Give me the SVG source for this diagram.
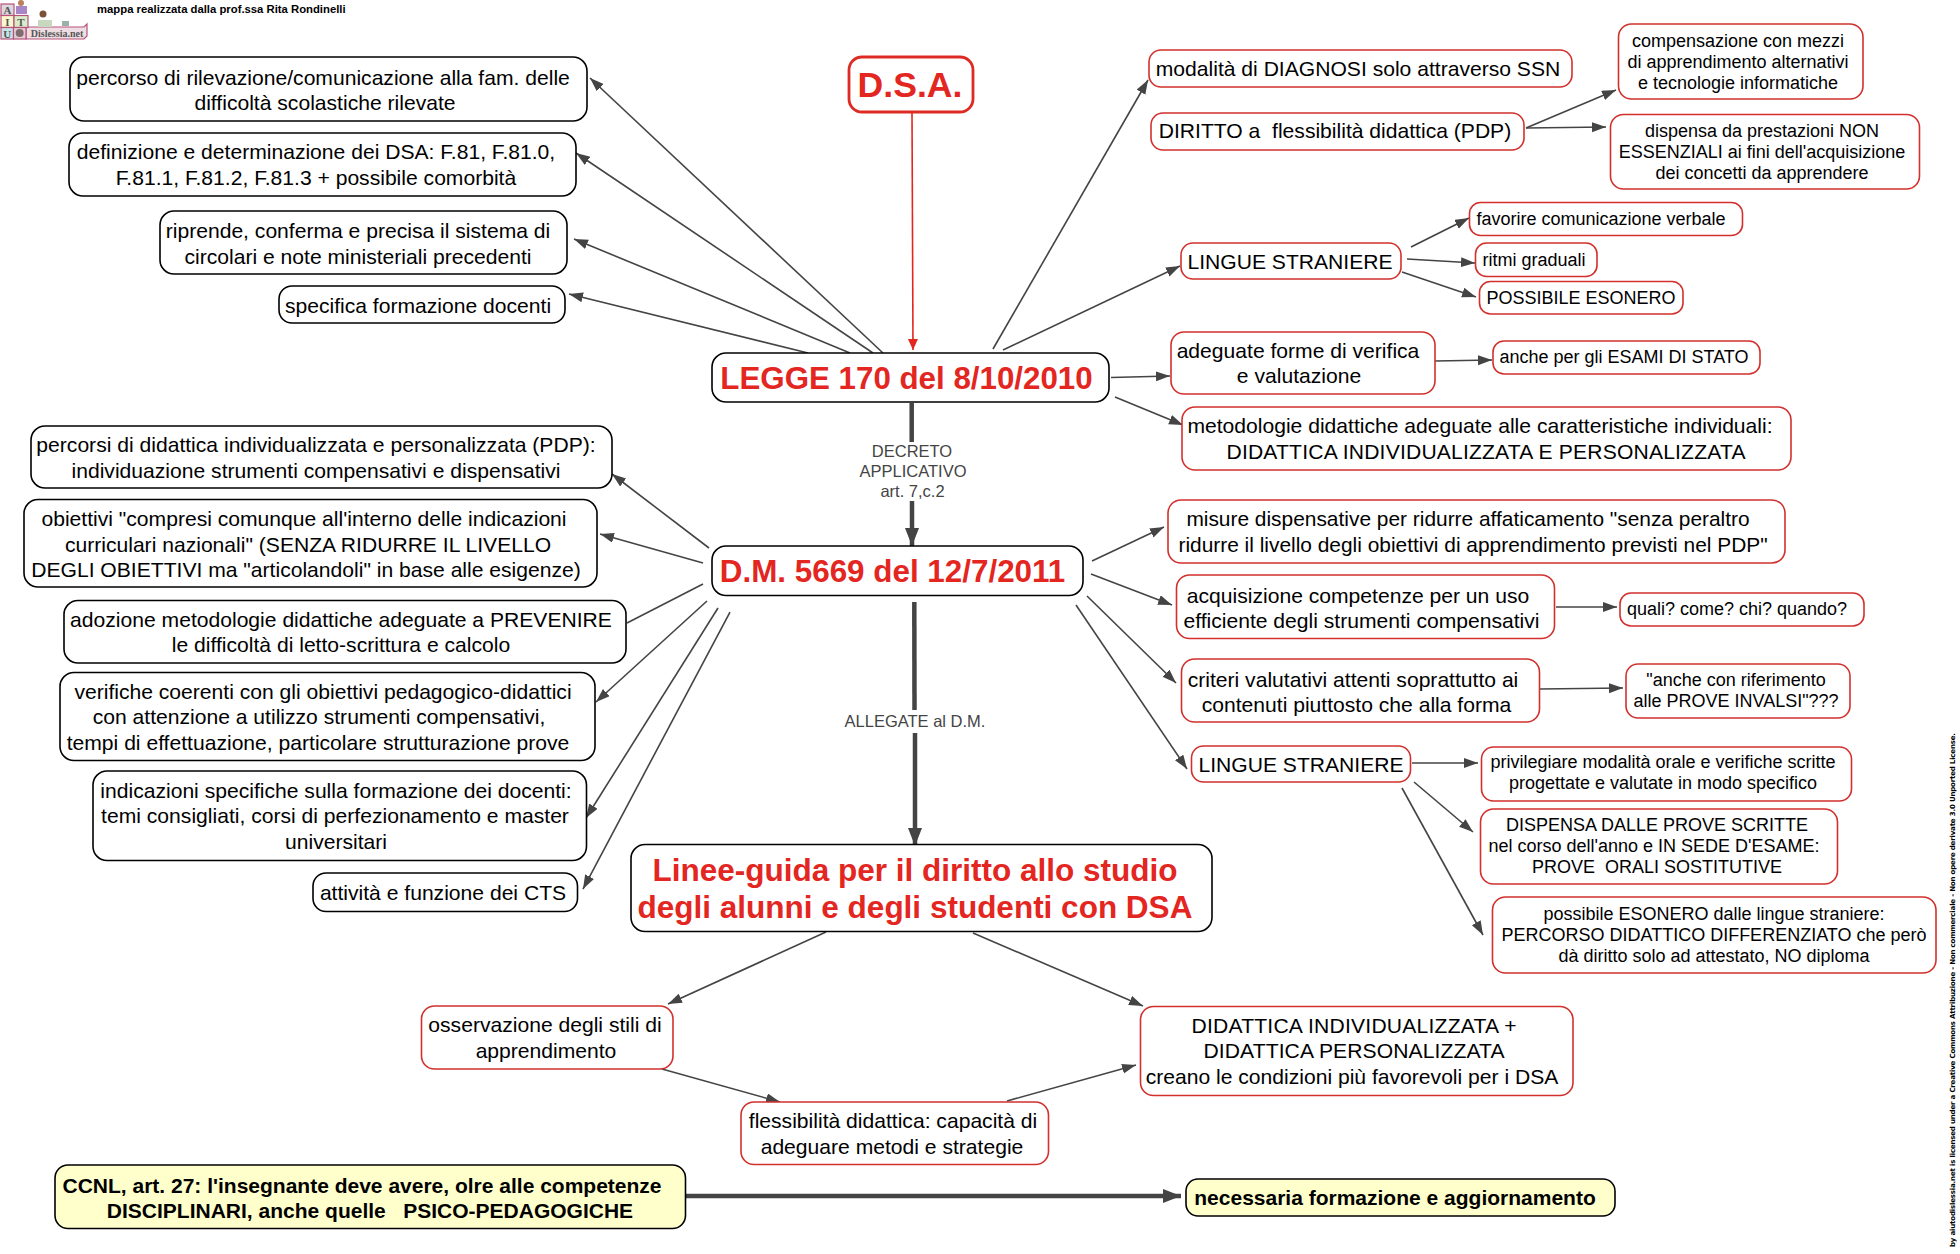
<svg xmlns="http://www.w3.org/2000/svg" width="1960" height="1254" viewBox="0 0 1960 1254">
<style>
text{font-family:"Liberation Sans",Arial,sans-serif;text-anchor:middle;fill:#000}
.k{fill:#fff;stroke:#000;stroke-width:1.6}
.r{fill:#fff;stroke:#d2302c;stroke-width:1.6}
.y{fill:#ffffcc;stroke:#000;stroke-width:1.6}
.t{font-size:21.1px}
.s{font-size:18px}
.h{fill:#e3261f;font-weight:bold}
.l{fill:#444;font-size:16.5px}
.b{font-weight:bold;font-size:21px}
.c{font-size:11px;font-weight:bold;font-family:"Liberation Serif",serif;fill:#555}
.lg{stroke:#b8527a;stroke-width:1.2}
#conn line{stroke:#444;stroke-width:1.6;marker-end:url(#a)}
#conn line.m{stroke-width:4.5;marker-end:url(#am)}
#conn line.n{marker-end:none}
#conn line.red{stroke:#e3261f;marker-end:url(#ar)}
</style>
<defs>
<marker id="a" markerUnits="userSpaceOnUse" markerWidth="16" markerHeight="12" refX="14" refY="5" orient="auto"><path d="M0 0L14 5L0 10z" fill="#444"/></marker>
<marker id="ar" markerUnits="userSpaceOnUse" markerWidth="16" markerHeight="12" refX="11" refY="5" orient="auto"><path d="M0 0L11 5L0 10z" fill="#e3261f"/></marker>
<marker id="am" markerUnits="userSpaceOnUse" markerWidth="20" markerHeight="16" refX="18" refY="7" orient="auto"><path d="M0 0L18 7L0 14z" fill="#444"/></marker>
</defs>
<g id="conn">
<line class="red" x1="912" y1="112" x2="913" y2="350"/>
<line x1="883" y1="353" x2="590" y2="78"/>
<line x1="873" y1="353" x2="576" y2="153"/>
<line x1="850" y1="353" x2="574" y2="239"/>
<line x1="808" y1="353" x2="569" y2="294"/>
<line x1="993" y1="349" x2="1148" y2="80"/>
<line x1="1003" y1="350" x2="1180" y2="266"/>
<line x1="1111" y1="377.500" x2="1170" y2="376"/>
<line x1="1115" y1="397" x2="1183" y2="425"/>
<line x1="1526" y1="128" x2="1616" y2="90"/>
<line x1="1526" y1="128" x2="1606" y2="127"/>
<line x1="1411" y1="247" x2="1469" y2="218"/>
<line x1="1407" y1="259" x2="1475" y2="263"/>
<line x1="1402" y1="272" x2="1476" y2="297"/>
<line x1="1435" y1="361" x2="1492" y2="360"/>
<line class="m n" x1="911.700" y1="403" x2="911.700" y2="442"/>
<line class="m" x1="912" y1="501" x2="912" y2="546"/>
<line class="m n" x1="914.300" y1="602" x2="914.500" y2="710"/>
<line class="m" x1="915" y1="733" x2="915" y2="846"/>
<line x1="709" y1="548" x2="612" y2="474"/>
<line x1="703" y1="563" x2="600" y2="534"/>
<line class="n" x1="703" y1="584" x2="627" y2="623"/>
<line x1="707" y1="601" x2="596" y2="702"/>
<line x1="718" y1="608" x2="586" y2="818"/>
<line x1="730" y1="612" x2="583" y2="889"/>
<line x1="1092" y1="561" x2="1164" y2="527"/>
<line x1="1091" y1="574" x2="1172" y2="605"/>
<line x1="1087" y1="596" x2="1176" y2="683"/>
<line x1="1076" y1="605" x2="1187" y2="769"/>
<line x1="1556" y1="607" x2="1617" y2="607"/>
<line x1="1540" y1="689" x2="1623" y2="688"/>
<line x1="1412" y1="763" x2="1478" y2="763"/>
<line x1="1414" y1="782" x2="1473" y2="832"/>
<line x1="1402" y1="788" x2="1483" y2="935"/>
<line x1="826" y1="932" x2="668" y2="1004"/>
<line x1="973" y1="933" x2="1143" y2="1006"/>
<line x1="662" y1="1069" x2="780" y2="1102"/>
<line x1="1007" y1="1101" x2="1136" y2="1065"/>
<line class="m" x1="686" y1="1196" x2="1181" y2="1196"/>
</g>
<g id="logo">
<path class="lg" d="M26 39V27H84L87 24V36L84 39z" fill="#efdde4"/>
<rect class="lg" x="1" y="4" width="13" height="11.500" fill="#ddd8e0"/>
<rect class="lg" x="1" y="15.500" width="13" height="12" fill="#fbf7cf"/>
<rect class="lg" x="14" y="15.500" width="14" height="12" fill="#d9ecc8"/>
<rect class="lg" x="1" y="27.500" width="12.500" height="11.500" fill="#c6e4e8"/>
<rect class="lg" x="13.500" y="27.500" width="12.500" height="11.500" fill="#e4ccd4"/>
<rect x="16" y="6" width="11" height="8" fill="#a887c8"/>
<circle cx="21" cy="3" r="3" fill="#b97f5e"/>
<rect x="38" y="20" width="14" height="7" fill="#c8d8c0"/>
<circle cx="43" cy="14" r="3.500" fill="#7a5238"/>
<rect x="62" y="21" width="7" height="5" fill="#9ab0a8"/>
<text class="c" x="7.500" y="14">A</text>
<text class="c" x="7.500" y="26">I</text>
<text class="c" x="21" y="26">T</text>
<text class="c" x="7.200" y="37.500">U</text>
<circle cx="19.700" cy="33" r="4" fill="#7f6d70"/>
<text x="57" y="36.500" style="font-size:10px;font-weight:bold;fill:#555;font-family:'Liberation Serif',serif">Dislessia.net</text>
</g>
<text x="97" y="12.500" style="text-anchor:start;font-size:11.300px;font-weight:bold">mappa realizzata dalla prof.ssa Rita Rondinelli</text>
<text transform="translate(1955,1247) rotate(-90)" textLength="514" style="text-anchor:start;font-size:7px;font-weight:bold;font-family:'DejaVu Sans',sans-serif">by aiutodislessia.net is licensed under a Creative Commons Attribuzione - Non commerciale - Non opere derivate 3.0 Unported License.</text>
<g id="n0"><rect class="r" x="849" y="57" width="124" height="55" rx="13" style="stroke-width:2.8;stroke:#dd2b24"/><text class="h" x="910" y="97" style="font-size:35.600px">D.S.A.</text></g>
<g id="n1"><rect class="k" x="712" y="353" width="397" height="49" rx="14"/><text class="h" x="906.500" y="388.500" style="font-size:31.300px">LEGGE 170 del 8/10/2010</text></g>
<g id="n2"><rect class="k" x="712" y="546" width="371" height="49.500" rx="14"/><text class="h" x="892.500" y="582" style="font-size:31.400px">D.M. 5669 del 12/7/2011</text></g>
<g id="n3"><rect class="k" x="631" y="844.500" width="581" height="87" rx="14"/><text class="h" x="915" y="881" style="font-size:31.500px">Linee-guida per il diritto allo studio</text><text class="h" x="915" y="918" style="font-size:31.500px">degli alunni e degli studenti con DSA</text></g>
<g id="l1"><rect class="k" x="70" y="57" width="517" height="64" rx="14"/><text class="t" x="323" y="85">percorso di rilevazione/comunicazione alla fam. delle</text><text class="t" x="325" y="110">difficoltà scolastiche rilevate</text></g>
<g id="l2"><rect class="k" x="69" y="133" width="507" height="63" rx="14"/><text class="t" x="316" y="159">definizione e determinazione dei DSA: F.81, F.81.0,</text><text class="t" x="316" y="185">F.81.1, F.81.2, F.81.3 + possibile comorbità</text></g>
<g id="l3"><rect class="k" x="160" y="211" width="407" height="63" rx="14"/><text class="t" x="358" y="238">riprende, conferma e precisa il sistema di</text><text class="t" x="358" y="264">circolari e note ministeriali precedenti</text></g>
<g id="l4"><rect class="k" x="279" y="286" width="286" height="37" rx="13"/><text class="t" x="418" y="313">specifica formazione docenti</text></g>
<g id="l5"><rect class="k" x="31" y="426" width="581" height="62" rx="14"/><text class="t" x="316" y="452">percorsi di didattica individualizzata e personalizzata (PDP):</text><text class="t" x="316" y="478">individuazione strumenti compensativi e dispensativi</text></g>
<g id="l6"><rect class="k" x="24" y="499.500" width="573" height="87.500" rx="14"/><text class="t" x="304" y="526">obiettivi "compresi comunque all'interno delle indicazioni</text><text class="t" x="308" y="552">curriculari nazionali" (SENZA RIDURRE IL LIVELLO</text><text class="t" x="306" y="577">DEGLI OBIETTIVI ma "articolandoli" in base alle esigenze)</text></g>
<g id="l7"><rect class="k" x="64" y="600.500" width="562" height="62.500" rx="14"/><text class="t" x="341" y="627">adozione metodologie didattiche adeguate a PREVENIRE</text><text class="t" x="341" y="652">le difficoltà di letto-scrittura e calcolo</text></g>
<g id="l8"><rect class="k" x="60" y="672.500" width="535" height="88" rx="14"/><text class="t" x="323" y="699">verifiche coerenti con gli obiettivi pedagogico-didattici</text><text class="t" x="319" y="724">con attenzione a utilizzo strumenti compensativi,</text><text class="t" x="318" y="750">tempi di effettuazione, particolare strutturazione prove</text></g>
<g id="l9"><rect class="k" x="93" y="771" width="493.500" height="89.500" rx="14"/><text class="t" x="336" y="798">indicazioni specifiche sulla formazione dei docenti:</text><text class="t" x="335" y="823">temi consigliati, corsi di perfezionamento e master</text><text class="t" x="336" y="849">universitari</text></g>
<g id="l10"><rect class="k" x="313" y="873" width="264.500" height="38.500" rx="13"/><text class="t" x="443" y="900">attività e funzione dei CTS</text></g>
<g id="r1"><rect class="r" x="1149" y="50" width="423" height="37" rx="12"/><text class="t" x="1358" y="76">modalità di DIAGNOSI solo attraverso SSN</text></g>
<g id="r2"><rect class="r" x="1151" y="113" width="373" height="37" rx="12"/><text class="t" x="1335" y="138" xml:space="preserve">DIRITTO a  flessibilità didattica (PDP)</text></g>
<g id="r3"><rect class="r" x="1618.500" y="24" width="244.500" height="75" rx="13"/><text class="s" x="1738" y="47">compensazione con mezzi</text><text class="s" x="1738" y="68">di apprendimento alternativi</text><text class="s" x="1738" y="89">e tecnologie informatiche</text></g>
<g id="r4"><rect class="r" x="1610.500" y="114.500" width="309" height="74.500" rx="13"/><text class="s" x="1762" y="137">dispensa da prestazioni NON</text><text class="s" x="1762" y="158">ESSENZIALI ai fini dell'acquisizione</text><text class="s" x="1762" y="179">dei concetti da apprendere</text></g>
<g id="r5"><rect class="r" x="1181" y="243" width="220" height="36" rx="12"/><text class="t" x="1290" y="268.500">LINGUE STRANIERE</text></g>
<g id="r6"><rect class="r" x="1469.500" y="202.500" width="273" height="33" rx="11"/><text class="s" x="1601" y="225">favorire comunicazione verbale</text></g>
<g id="r7"><rect class="r" x="1475.500" y="243" width="121.500" height="33.500" rx="11"/><text class="s" x="1534" y="266">ritmi graduali</text></g>
<g id="r8"><rect class="r" x="1479.500" y="281.500" width="203.500" height="32.500" rx="11"/><text class="s" x="1581" y="304">POSSIBILE ESONERO</text></g>
<g id="r9"><rect class="r" x="1171" y="332" width="264" height="62" rx="13"/><text class="t" x="1298" y="358">adeguate forme di verifica</text><text class="t" x="1299" y="383">e valutazione</text></g>
<g id="r10"><rect class="r" x="1493" y="341" width="267" height="33" rx="11"/><text class="s" x="1624" y="363">anche per gli ESAMI DI STATO</text></g>
<g id="r11"><rect class="r" x="1182" y="407" width="609" height="63" rx="13"/><text class="t" x="1480" y="433">metodologie didattiche adeguate alle caratteristiche individuali:</text><text class="t" x="1486" y="459" textLength="519">DIDATTICA INDIVIDUALIZZATA E PERSONALIZZATA</text></g>
<g id="r12"><rect class="r" x="1168" y="500" width="617" height="63" rx="13"/><text class="t" x="1468" y="526" style="font-size:20.900px">misure dispensative per ridurre affaticamento "senza peraltro</text><text class="t" x="1473" y="552" style="font-size:20.900px">ridurre il livello degli obiettivi di apprendimento previsti nel PDP"</text></g>
<g id="r13"><rect class="r" x="1176.500" y="575" width="378" height="63.500" rx="13"/><text class="t" x="1358" y="603">acquisizione competenze per un uso</text><text class="t" x="1361.500" y="628">efficiente degli strumenti compensativi</text></g>
<g id="r14"><rect class="r" x="1620" y="593" width="244" height="33" rx="11"/><text class="s" x="1737" y="615">quali? come? chi? quando?</text></g>
<g id="r15"><rect class="r" x="1181.500" y="659" width="358" height="63" rx="13"/><text class="t" x="1353" y="687">criteri valutativi attenti soprattutto ai</text><text class="t" x="1356.500" y="712">contenuti piuttosto che alla forma</text></g>
<g id="r16"><rect class="r" x="1626" y="664" width="224" height="54" rx="12"/><text class="s" x="1736" y="686">"anche con riferimento</text><text class="s" x="1736" y="707">alle PROVE INVALSI"???</text></g>
<g id="r17"><rect class="r" x="1191.500" y="746" width="219" height="36" rx="12"/><text class="t" x="1301" y="771.500">LINGUE STRANIERE</text></g>
<g id="r18"><rect class="r" x="1481.500" y="747" width="370" height="54" rx="12"/><text class="s" x="1663" y="768">privilegiare modalità orale e verifiche scritte</text><text class="s" x="1663" y="789">progettate e valutate in modo specifico</text></g>
<g id="r19"><rect class="r" x="1480.500" y="809" width="357" height="75" rx="13"/><text class="s" x="1657" y="831">DISPENSA DALLE PROVE SCRITTE</text><text class="s" x="1654" y="852">nel corso dell'anno e IN SEDE D'ESAME:</text><text class="s" x="1657" y="873" xml:space="preserve">PROVE  ORALI SOSTITUTIVE</text></g>
<g id="r20"><rect class="r" x="1492.500" y="897" width="443.500" height="76" rx="13"/><text class="s" x="1714" y="920">possibile ESONERO dalle lingue straniere:</text><text class="s" x="1714" y="941">PERCORSO DIDATTICO DIFFERENZIATO che però</text><text class="s" x="1714" y="962">dà diritto solo ad attestato, NO diploma</text></g>
<g id="b1"><rect class="r" x="421.500" y="1006" width="251.500" height="63" rx="13"/><text class="t" x="545" y="1032">osservazione degli stili di</text><text class="t" x="546" y="1058">apprendimento</text></g>
<g id="b2"><rect class="r" x="1140.500" y="1006.500" width="432.500" height="89" rx="13"/><text class="t" x="1354" y="1033" textLength="325">DIDATTICA INDIVIDUALIZZATA +</text><text class="t" x="1354" y="1058" textLength="301">DIDATTICA PERSONALIZZATA</text><text class="t" x="1352" y="1084">creano le condizioni più favorevoli per i DSA</text></g>
<g id="b3"><rect class="r" x="741" y="1102" width="307.500" height="62.500" rx="13"/><text class="t" x="893" y="1128">flessibilità didattica: capacità di</text><text class="t" x="892" y="1154">adeguare metodi e strategie</text></g>
<g id="b4"><rect class="y" x="55" y="1165" width="630.500" height="63.500" rx="13"/><text class="b" x="362" y="1193">CCNL, art. 27: l'insegnante deve avere, olre alle competenze</text><text class="b" x="370" y="1218" xml:space="preserve">DISCIPLINARI, anche quelle   PSICO-PEDAGOGICHE</text></g>
<g id="b5"><rect class="y" x="1186" y="1179" width="429" height="37" rx="12"/><text class="b" x="1395" y="1205">necessaria formazione e aggiornamento</text></g>
<g id="labels"><text class="l" x="912" y="457">DECRETO</text><text class="l" x="913" y="477">APPLICATIVO</text><text class="l" x="912.500" y="496.500">art. 7,c.2</text><text class="l" x="915" y="727">ALLEGATE al D.M.</text></g>
</svg>
